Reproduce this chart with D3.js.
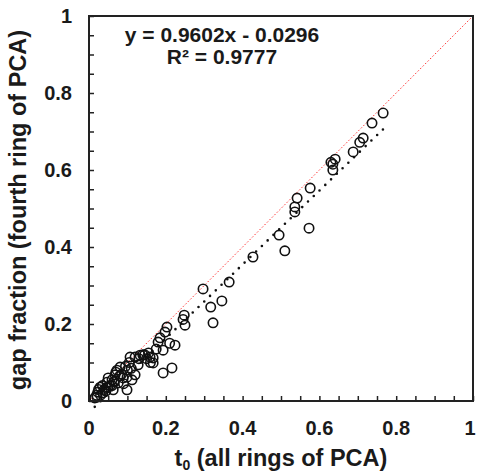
<!DOCTYPE html>
<html>
<head>
<meta charset="utf-8">
<script src="https://cdn.jsdelivr.net/npm/d3@7"></script>
<style>
  body { margin: 0; background: #fff; }
  text { font-family: "Liberation Sans", Arial, sans-serif; font-weight: bold; fill: #1a1a1a; }
</style>
</head>
<body>
<script>
// values
var t0 = [0.766, 0.737, 0.714, 0.705, 0.688, 0.641, 0.635, 0.630, 0.635, 0.576,
          0.542, 0.536, 0.536, 0.573, 0.495, 0.510, 0.427, 0.365, 0.297, 0.346,
          0.317, 0.323, 0.248, 0.245, 0.250, 0.203, 0.198, 0.185, 0.180, 0.193,
          0.224, 0.216, 0.193, 0.167, 0.167, 0.159, 0.133, 0.120, 0.107, 0.128,
          0.120, 0.099, 0.081, 0.073, 0.089, 0.099, 0.112, 0.068, 0.060, 0.047,
          0.049, 0.029, 0.023, 0.021, 0.036, 0.063, 0.076, 0.015, 0.040, 0.055,
          0.085, 0.140, 0.150, 0.175, 0.160, 0.210, 0.100, 0.090, 0.030, 0.044,
          0.020, 0.025, 0.035, 0.045, 0.050, 0.065, 0.070, 0.080, 0.095, 0.105,
          0.110, 0.130, 0.145, 0.155, 0.060];
var gap4 = [0.748, 0.722, 0.683, 0.672, 0.647, 0.628, 0.615, 0.620, 0.600, 0.553,
            0.527, 0.504, 0.491, 0.449, 0.431, 0.390, 0.374, 0.309, 0.291, 0.260,
            0.244, 0.203, 0.223, 0.212, 0.197, 0.192, 0.179, 0.164, 0.153, 0.132,
            0.145, 0.086, 0.073, 0.112, 0.099, 0.114, 0.119, 0.114, 0.114, 0.094,
            0.068, 0.029, 0.088, 0.080, 0.060, 0.062, 0.055, 0.068, 0.055, 0.049,
            0.036, 0.036, 0.023, 0.010, 0.021, 0.029, 0.047, 0.008, 0.030, 0.040,
            0.070, 0.120, 0.110, 0.135, 0.100, 0.150, 0.080, 0.045, 0.015, 0.026,
            0.015, 0.030, 0.040, 0.035, 0.060, 0.050, 0.075, 0.065, 0.090, 0.100,
            0.085, 0.110, 0.120, 0.125, 0.040];
var slope = 0.9602, intercept = -0.0296, r2 = 0.9777;
var trendRange = [0.015, 0.77];
var tickLabels = [0, 0.2, 0.4, 0.6, 0.8, 1];
var minorTicks = d3.range(0, 1.0001, 0.05);

var W = 477, H = 474;
var pl = 89, pr = 473, pt = 16, pb = 401;

var svg = d3.select("body").append("svg")
    .attr("width", W)
    .attr("height", H);

var x = d3.scaleLinear().domain([0, 1]).range([pl, pr]);
var y = d3.scaleLinear().domain([0, 1]).range([pb, pt]);

// inward ticks
svg.append("g")
    .attr("transform", "translate(0," + pb + ")")
    .call(d3.axisTop(x).tickValues(minorTicks).tickSize(5).tickFormat(""))
    .call(function(g) { g.select(".domain").remove(); g.selectAll("line").attr("stroke-width", 1.5).attr("stroke", "#222"); });
svg.append("g")
    .attr("transform", "translate(" + pl + ",0)")
    .call(d3.axisRight(y).tickValues(minorTicks).tickSize(5).tickFormat(""))
    .call(function(g) { g.select(".domain").remove(); g.selectAll("line").attr("stroke-width", 1.5).attr("stroke", "#222"); });

// tick labels (last one kept inside the page edge)
svg.selectAll(".xl").data(tickLabels).enter().append("text")
    .attr("x", function(d) { return Math.min(x(d), W - 7); })
    .attr("y", 435)
    .attr("text-anchor", "middle")
    .attr("font-size", 20)
    .text(function(d) { return d; });
svg.selectAll(".yl").data(tickLabels).enter().append("text")
    .attr("x", 72)
    .attr("y", function(d) { return y(d) + 7; })
    .attr("text-anchor", "end")
    .attr("font-size", 20)
    .text(function(d) { return d; });

// 1:1 line
svg.append("line")
    .attr("x1", x(0)).attr("y1", y(0))
    .attr("x2", x(1)).attr("y2", y(1))
    .attr("stroke", "#ff3030")
    .attr("stroke-width", 1)
    .attr("stroke-dasharray", "1.5,2");

// points
svg.selectAll("circle.pt").data(t0).enter().append("circle")
    .attr("class", "pt")
    .attr("cx", function(d) { return x(d); })
    .attr("cy", function(d, i) { return y(gap4[i]); })
    .attr("r", 4.7)
    .attr("fill", "none")
    .attr("stroke", "#111")
    .attr("stroke-width", 1.6);

// trendline
svg.append("line")
    .attr("x1", x(trendRange[0])).attr("y1", y(slope * trendRange[0] + intercept))
    .attr("x2", x(trendRange[1])).attr("y2", y(slope * trendRange[1] + intercept))
    .attr("stroke", "#111")
    .attr("stroke-width", 2.6)
    .attr("stroke-linecap", "round")
    .attr("stroke-dasharray", "0,8");

// frame
svg.append("rect")
    .attr("x", pl).attr("y", pt)
    .attr("width", pr - pl).attr("height", pb - pt)
    .attr("fill", "none")
    .attr("stroke", "#222")
    .attr("stroke-width", 2);

// equation
svg.append("text")
    .attr("x", 222).attr("y", 42)
    .attr("text-anchor", "middle")
    .attr("font-size", 21)
    .text("y = " + slope + "x - " + Math.abs(intercept).toFixed(4));
svg.append("text")
    .attr("x", 222).attr("y", 64)
    .attr("text-anchor", "middle")
    .attr("font-size", 21)
    .text("R² = " + r2);

// axis titles
var xt = svg.append("text")
    .attr("x", 281).attr("y", 466)
    .attr("text-anchor", "middle")
    .attr("font-size", 23.5);
xt.append("tspan").text("t");
xt.append("tspan").attr("font-size", 14).attr("dy", 4).text("0");
xt.append("tspan").attr("dy", -4).text(" (all rings of PCA)");

svg.append("text")
    .attr("transform", "translate(26,210) rotate(-90)")
    .attr("text-anchor", "middle")
    .attr("font-size", 23.5)
    .text("gap fraction (fourth ring of PCA)");
</script>
</body>
</html>
